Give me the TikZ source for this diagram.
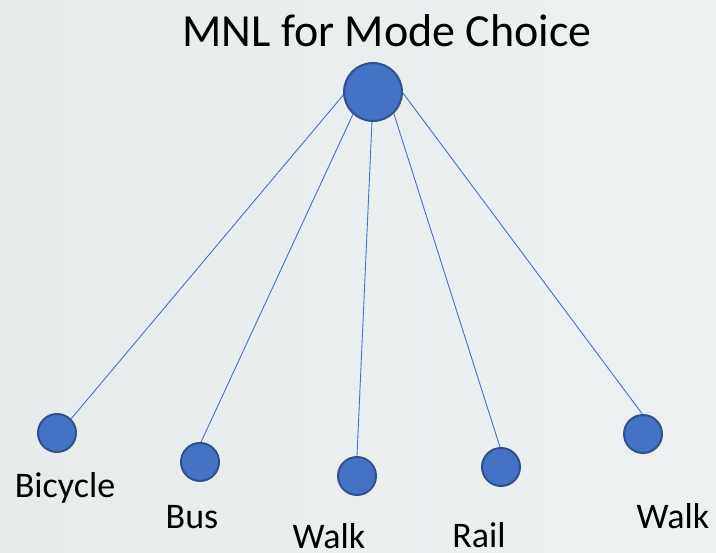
\documentclass[tikz,border=0pt]{standalone}
\usepackage{fontspec}
\setmainfont{Carlito}
\definecolor{nodefill}{HTML}{4472C4}
\definecolor{nodeedge}{HTML}{2F528F}
\definecolor{bgleft}{HTML}{E7EBEC}
\definecolor{bgright}{HTML}{EEF1F2}
\begin{document}
\begin{tikzpicture}[x=1pt,y=-1pt,
  bignode/.style={circle,fill=nodefill,draw=nodeedge,line width=2pt,minimum size=58pt,inner sep=0pt},
  smallnode/.style={circle,fill=nodefill,draw=nodeedge,line width=2pt,minimum size=38pt,inner sep=0pt},
  link/.style={draw=nodefill,line width=0.9pt},
  lbl/.style={anchor=base,inner sep=0pt,font=\fontsize{36}{40}\selectfont},
  ttl/.style={anchor=base,inner sep=0pt,font=\fontsize{46}{52}\selectfont}]
\shade[left color=bgleft,right color=bgright] (0,0) rectangle (716,553);
\useasboundingbox (0,0) rectangle (716,553);
\node[ttl] (title) at (387,47) {MNL for Mode Choice};
\node[bignode] (top) at (373,92) {};
\node[smallnode] (bic) at (57,433) {};
\node[smallnode] (bus) at (200,462) {};
\node[smallnode] (walkA) at (357,476) {};
\node[smallnode] (rail) at (501,467) {};
\node[smallnode] (walkB) at (643,434) {};
\draw[link] (top.186) -- (bic.45);
\draw[link] (top.228) -- (bus.87);
\draw[link] (top.268) -- (walkA.90);
\draw[link] (top.314) -- (rail.93);
\draw[link] (top.358) -- (walkB.92);
\node[lbl] (lbic) at (65,498) {Bicycle};
\node[lbl] (lbus) at (192,529) {Bus};
\node[lbl] (lwalkA) at (329,549) {Walk};
\node[lbl] (lrail) at (479,548) {Rail};
\node[lbl] (lwalkB) at (673,529) {Walk};
\end{tikzpicture}
\end{document}
